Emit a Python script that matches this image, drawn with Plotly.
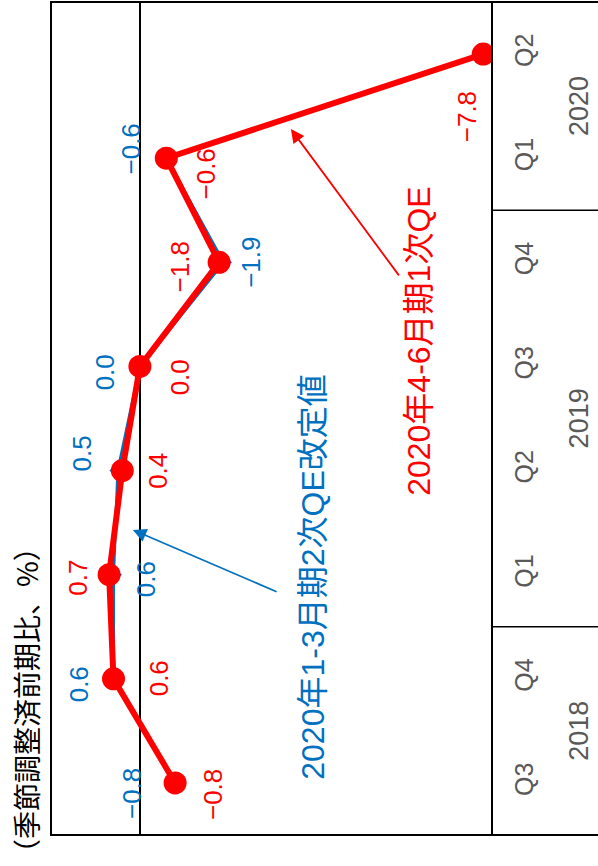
import plotly.graph_objects as go

# ---- data ----
years = ["2018", "2018", "2019", "2019", "2019", "2019", "2020", "2020"]
quarters = ["Q3", "Q4", "Q1", "Q2", "Q3", "Q4", "Q1", "Q2"]
first_qe_2020q2 = [-0.8, 0.6, 0.7, 0.4, 0.0, -1.8, -0.6, -7.8]   # red
second_qe_2020q1 = [-0.8, 0.6, 0.6, 0.5, 0.0, -1.9, -0.6]         # blue
year_groups = ["2018", "2019", "2020"]

red_name = "2020年4-6月期1次QE"
blue_name = "2020年1-3月期2次QE改定値"
title_text = "（季節調整済前期比、%）"

RED = "#FF0000"
BLUE = "#0070C0"
GRAY = "#595959"
FONT = "Liberation Sans, Arial, Noto Sans CJK JP"
CJK = "Noto Sans CJK JP"

idx = list(range(len(quarters)))


def fmt(v):
    return f"{v:.1f}".replace("-", "−")


fig = go.Figure()
fig.add_trace(go.Scatter(
    x=second_qe_2020q1, y=idx[:len(second_qe_2020q1)], mode="lines+markers",
    line=dict(color=BLUE, width=3), marker=dict(symbol="diamond", size=13, color=BLUE),
    name=blue_name, showlegend=False, hoverinfo="skip"))
fig.add_trace(go.Scatter(
    x=first_qe_2020q2, y=idx, mode="lines+markers",
    line=dict(color=RED, width=6), marker=dict(symbol="circle", size=23, color=RED),
    name=red_name, showlegend=False, hoverinfo="skip"))

ann = []
# data labels (pixel offsets relative to each point)
blue_off = [(-43, 11), (-35, 6), (32, 5), (-36, -17), (-34, 6), (28, 0), (-35, -9)]
red_off = [(38, 12), (45, 0), (-31, 3), (35, 0), (41, 11), (-39, 5), (40, 16), (-16, 63)]
for i, v in enumerate(second_qe_2020q1):
    dx, dy = blue_off[i]
    ann.append(dict(x=v, y=i, xref="x", yref="y", text=fmt(v), showarrow=False,
                    textangle=-90, xshift=dx, yshift=-dy, xanchor="center", yanchor="middle",
                    font=dict(family=FONT, size=26, color=BLUE)))
for i, v in enumerate(first_qe_2020q2):
    dx, dy = red_off[i]
    ann.append(dict(x=v, y=i, xref="x", yref="y", text=fmt(v), showarrow=False,
                    textangle=-90, xshift=dx, yshift=-dy, xanchor="center", yanchor="middle",
                    font=dict(family=FONT, size=26, color=RED)))

# year group labels
for yname in year_groups:
    members = [i for i, y in enumerate(years) if y == yname]
    c = sum(members) / len(members)
    ann.append(dict(x=1.197, y=c, xref="paper", yref="y", text=yname, showarrow=False,
                    textangle=-90, xanchor="center", yanchor="middle",
                    font=dict(family=FONT, size=27, color=GRAY)))

# series callouts with arrows
ann.append(dict(x=0.594, y=0.31, xref="paper", yref="paper", text=blue_name, showarrow=False,
                textangle=-90, xanchor="center", yanchor="middle",
                font=dict(family=FONT, size=32, color=BLUE)))
ann.append(dict(x=0.16, y=2.43, xref="x", yref="y", ax=-3.14, ay=1.83, axref="x", ayref="y",
                text="", showarrow=True, arrowhead=2, arrowsize=1.5, arrowwidth=1.8,
                arrowcolor=BLUE))
ann.append(dict(x=0.834, y=0.593, xref="paper", yref="paper", text=red_name, showarrow=False,
                textangle=-90, xanchor="center", yanchor="middle",
                font=dict(family=FONT, size=32, color=RED)))
ann.append(dict(x=-3.43, y=6.28, xref="x", yref="y", ax=-5.91, ay=4.86, axref="x", ayref="y",
                text="", showarrow=True, arrowhead=2, arrowsize=1.5, arrowwidth=1.8,
                arrowcolor=RED))

# unit title
ann.append(dict(x=-0.0567, y=0.162, xref="paper", yref="paper", text=title_text, showarrow=False,
                textangle=-90, xanchor="center", yanchor="middle",
                font=dict(family=CJK, size=28, color="black")))

shapes = [
    dict(type="rect", xref="paper", yref="paper", x0=0, x1=1, y0=0, y1=1,
         line=dict(color="black", width=2)),
    dict(type="line", xref="paper", yref="paper", x0=1, x1=1.25, y0=1, y1=1,
         line=dict(color="black", width=2)),
    dict(type="line", xref="paper", yref="paper", x0=1, x1=1.25, y0=0, y1=0,
         line=dict(color="black", width=2)),
]
# group dividers
for k in range(1, len(years)):
    if years[k] != years[k - 1]:
        shapes.append(dict(type="line", xref="paper", yref="y", x0=1, x1=1.25,
                           y0=k - 0.5, y1=k - 0.5, line=dict(color="black", width=1.5)))

fig.update_layout(
    width=598, height=866,
    margin=dict(l=51, r=106, t=2, b=31),
    paper_bgcolor="white", plot_bgcolor="white",
    xaxis=dict(range=[2.02, -8.0], showticklabels=False, showgrid=False, ticks="",
               zeroline=True, zerolinecolor="black", zerolinewidth=1.5, fixedrange=True),
    yaxis=dict(range=[-0.5, len(quarters) - 0.5], tickmode="array", tickvals=idx,
               ticktext=quarters, side="right", tickangle=-90, showgrid=False,
               zeroline=False, ticks="", ticklabelstandoff=15, fixedrange=True,
               tickfont=dict(family=FONT, size=25, color=GRAY)),
    annotations=ann, shapes=shapes, showlegend=False,
)

fig.write_html("out.html", config={"displayModeBar": False},
               post_script="document.body.style.margin='0';")
